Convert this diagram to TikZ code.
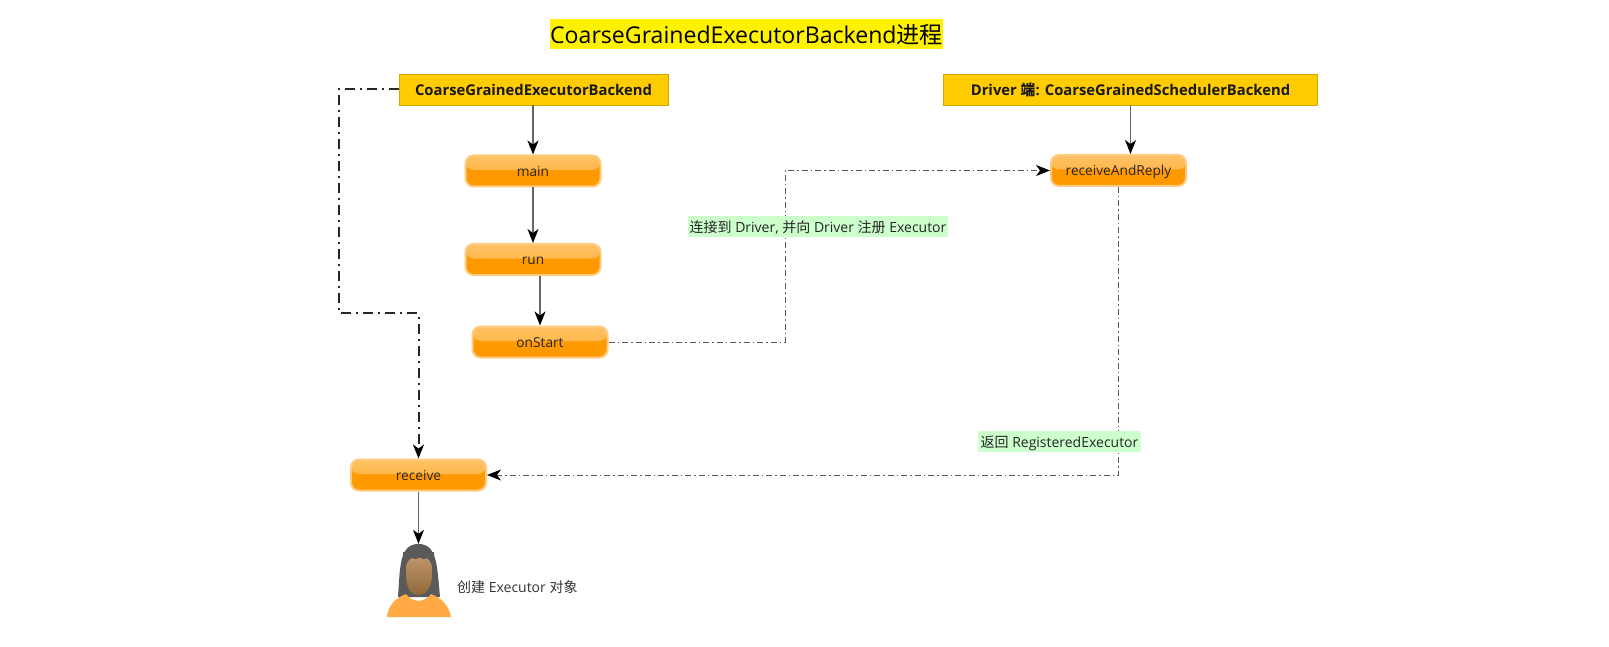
\documentclass[tikz,border=0pt]{standalone}
\usepackage{fontspec}
\setmainfont{Open Sans}
\newfontfamily\cjk{Noto Sans CJK SC}
\usetikzlibrary{arrows.meta,calc}
\definecolor{hdr}{HTML}{FFCC00}
\definecolor{hdrline}{HTML}{D9A800}
\definecolor{glow}{HTML}{FFCB80}
\definecolor{orangeB}{HTML}{FF9900}
\definecolor{orangeT}{HTML}{FFAD2E}
\definecolor{orangeL}{HTML}{FFC266}
\definecolor{lblbg}{HTML}{CCFFCC}
\definecolor{hair}{HTML}{5A5A5A}
\definecolor{skin}{HTML}{8F6638}
\definecolor{skinl}{HTML}{C49C70}
\definecolor{shirt}{HTML}{FFAA44}
\tikzset{
  px/.style={x=1pt,y=-1pt},
  header/.style={draw=hdrline,line width=0.8pt,fill=hdr,minimum height=31pt,inner sep=0pt,
    font=\fontsize{14.8}{16}\selectfont\bfseries,text=black!90},
  method/.style={draw=glow,line width=2pt,rounded corners=8pt,minimum width=135pt,minimum height=31pt,inner sep=0pt,
    text height=12pt,text depth=1pt,
    font=\fontsize{13.7}{15}\selectfont,text=black!85,fill=orangeB,
    path picture={
      \fill[top color=orangeL,bottom color=orangeT]
        (path picture bounding box.north west) rectangle
        ($(path picture bounding box.east)+(0,1pt)$);
    }},
  callflow/.style={draw=black!60,line width=1.2pt,-{Stealth[length=14pt,width=11pt,inset=4pt,black]}},
  selfflow/.style={draw=black!85,line width=2pt,dash pattern=on 10pt off 5pt on 2pt off 5pt,-{Stealth[length=14pt,width=11pt,inset=4pt,black]}},
  msgflow/.style={draw=black!65,line width=1pt,dash pattern=on 6pt off 3pt on 1.5pt off 3pt,-{Stealth[length=14pt,width=11pt,inset=4pt,black]}},
  msglabel/.style={fill=lblbg,inner sep=0pt,minimum height=20.5pt,text height=13pt,text depth=1pt,font=\fontsize{14}{16}\selectfont,text=black!85},
  plain/.style={inner sep=0pt,font=\fontsize{14}{16}\selectfont,text=black!80},
}
\begin{document}
\begin{tikzpicture}[px]
\useasboundingbox (0,0) rectangle (1609,647);
\fill[white] (0,0) rectangle (1609,647);

\node[fill=yellow,minimum width=393pt,minimum height=30pt,inner sep=0pt,text height=20pt,text depth=2pt,font=\fontsize{23.1}{26}\selectfont,text=black] (title) at (746.5,34.5) {CoarseGrainedExecutorBackend{\cjk 进程}};

\node[header,minimum width=269pt] (cgeb) at (533.5,89.5) {CoarseGrainedExecutorBackend};
\node[header,minimum width=374pt] (cgsb) at (1130.5,89.5) {Driver {\cjk 端}: CoarseGrainedSchedulerBackend};

\node[method] (main) at (533,171) {main};
\node[method] (run) at (533,259.5) {run};
\node[method] (onstart) at (540,342) {onStart};
\node[method] (rar) at (1118.5,170.5) {receiveAndReply};
\node[method] (recv) at (418.5,475) {receive};

% person
\node[inner sep=0pt,minimum width=64pt,minimum height=73pt] (person) at (418.5,580.5) {};
\fill[hair] (398,597) .. controls (400,565) and (400,544) .. (418.5,544) .. controls (437,544) and (437,565) .. (440,597) -- cycle;
\fill[shirt] (387,617) .. controls (388,605) and (396,598) .. (406,594) .. controls (412,603) and (425,603) .. (431,594) .. controls (441,598) and (449,605) .. (451,617) -- cycle;
\shade[top color=skinl,bottom color=skin] (406,568) .. controls (406,552) and (432,552) .. (432,568) -- (432,578) .. controls (431,586) and (428,590) .. (426,592) .. controls (423,596) and (414,596) .. (411,592) .. controls (409,590) and (407,586) .. (406,578) -- cycle;
\fill[hair] (403,562) -- (403,552) -- (434,552) -- (434,562) -- (431,561) -- (429,558) -- (423,559) -- (420,557.5) -- (416,559) -- (411,558) -- (407,560) -- cycle;

\node[plain,anchor=west] (persontxt) at (457,587) {{\cjk 创建} Executor {\cjk 对象}};

\draw[callflow] (cgeb.south -| main.north) -- (main.north);
\draw[callflow] (main) -- (run);
\draw[callflow] (run.south -| onstart.north) -- (onstart.north);
\draw[callflow] (cgsb.south) -- (cgsb.south |- rar.north);
\draw[callflow] (recv) -- (person);

\coordinate (a1) at (339,89);
\coordinate (a2) at (339,313);
\coordinate (a3) at (418.5,313);
\draw[selfflow] (cgeb.west |- a1) -- (a1) -- (a2) -- (a3) -- (recv.north);

\coordinate (b1) at (785,342);
\coordinate (b2) at (785,170.5);
\draw[msgflow] (onstart.east) -- (b1) -- (b2) -- (rar.west);

\coordinate (c1) at (1118.5,475);
\draw[msgflow] (rar.south) -- (c1) -- (recv.east);

\node[msglabel,minimum width=260pt] (l1) at (818,226.5) {{\cjk 连接到} Driver, {\cjk 并向} Driver {\cjk 注册} Executor};
\node[msglabel,minimum width=163pt] (l2) at (1059.5,441.5) {{\cjk 返回} RegisteredExecutor};
\end{tikzpicture}
\end{document}
